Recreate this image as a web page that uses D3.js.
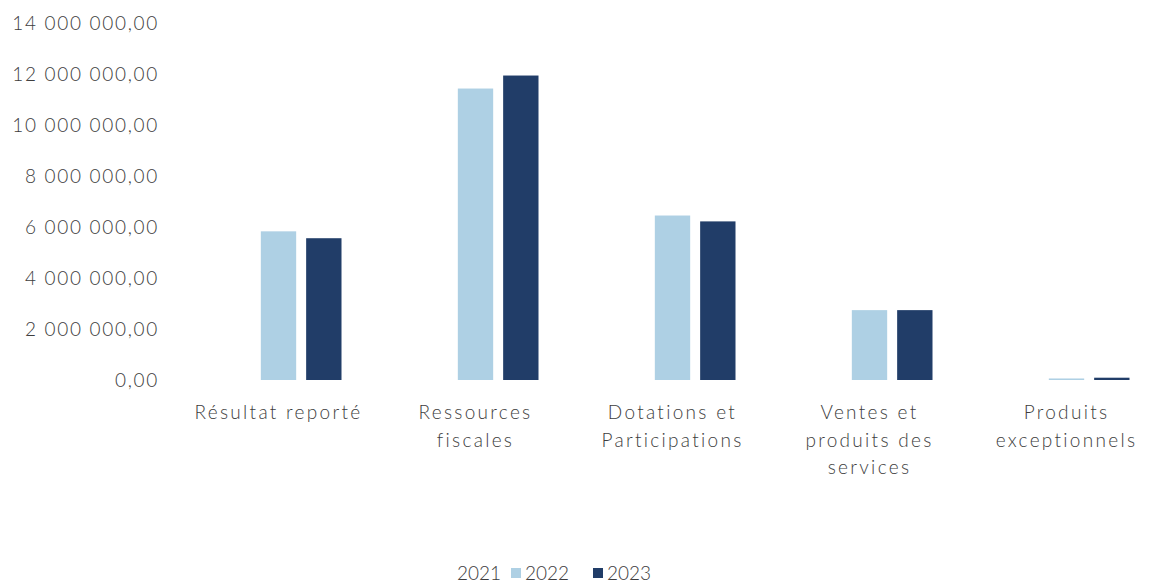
<!DOCTYPE html>
<html>
<head>
<meta charset="utf-8">
<script src="https://cdn.jsdelivr.net/npm/d3@7"></script>
<style>
  body { margin: 0; background: #fff; }
  text { font-family: "Lato", "DejaVu Sans", sans-serif; fill: #3d3d3d; }
</style>
</head>
<body>
<div id="chart"></div>
<script>
// categories (line breaks as in the picture)
const categories = [
  ["Résultat reporté"],
  ["Ressources", "fiscales"],
  ["Dotations et", "Participations"],
  ["Ventes et", "produits des", "services"],
  ["Produits", "exceptionnels"]
];
const years = ["2021", "2022", "2023"];
// 2021 is drawn blank in the reference
const values2021 = [0, 0, 0, 0, 0];
const values2022 = [5830000, 11430000, 6450000, 2740000, 60000];
const values2023 = [5560000, 11940000, 6220000, 2740000, 90000];
const yTicks = [0, 2000000, 4000000, 6000000, 8000000, 10000000, 12000000, 14000000];

const colors = { "2021": "none", "2022": "#aed0e4", "2023": "#213d68" };

const width = 1149, height = 585;
const svg = d3.select("#chart").append("svg")
  .attr("width", width).attr("height", height);

const x = d3.scaleBand()
  .domain(d3.range(categories.length))
  .range([180, 1165])
  .paddingInner(0);

const x1 = d3.scaleBand()
  .domain(years)
  .range([x.bandwidth() / 2 - 63, x.bandwidth() / 2 + 63])
  .paddingInner(0.22);

const y = d3.scaleLinear()
  .domain([0, 14000000])
  .range([380, 23]);

const fr = d3.formatLocale({ decimal: ",", thousands: " ", grouping: [3], currency: ["", ""] });
const fmt = fr.format(",.2f");

// y axis, no line, no ticks
const yAxis = svg.append("g")
  .attr("transform", "translate(159,0)")
  .call(d3.axisLeft(y).tickValues(yTicks).tickFormat(fmt).tickSize(0).tickPadding(0));
yAxis.select(".domain").remove();
yAxis.selectAll("text")
  .style("font-family", "'Lato', 'DejaVu Sans', sans-serif")
  .style("font-size", "19px")
  .style("font-weight", 300)
  .attr("letter-spacing", "1.7px")
  .attr("fill", "#3d3d3d");

const series = { "2021": values2021, "2022": values2022, "2023": values2023 };

const groups = svg.selectAll("g.cat")
  .data(categories)
  .enter().append("g")
  .attr("class", "cat")
  .attr("transform", (d, i) => `translate(${x(i)},0)`);

groups.each(function (d, i) {
  const g = d3.select(this);
  years.forEach(yr => {
    const v = series[yr][i];
    g.append("rect")
      .attr("x", x1(yr))
      .attr("width", x1.bandwidth())
      .attr("y", y(v))
      .attr("height", Math.max(0, y(0) - y(v)))
      .attr("fill", colors[yr]);
  });
  const t = g.append("text")
    .attr("text-anchor", "middle")
    .attr("x", x.bandwidth() / 2)
    .attr("y", 419)
    .style("font-size", "19px")
    .style("font-weight", 300)
    .attr("letter-spacing", "2.3px");
  d.forEach((line, k) => {
    t.append("tspan")
      .attr("x", x.bandwidth() / 2)
      .attr("dy", k === 0 ? 0 : 27.5)
      .text(line);
  });
});

// legend
const legend = svg.append("g").attr("transform", "translate(0,580)");
const legendItems = [
  { year: "2021", sx: null, tx: 457 },
  { year: "2022", sx: 511, tx: 525 },
  { year: "2023", sx: 593, tx: 607 }
];
legendItems.forEach(it => {
  if (it.sx !== null) {
    legend.append("rect")
      .attr("x", it.sx).attr("y", -12)
      .attr("width", 10).attr("height", 10)
      .attr("fill", colors[it.year]);
  }
  legend.append("text")
    .attr("x", it.tx).attr("y", 0)
    .style("font-size", "19px")
    .style("font-weight", 300)
    .text(it.year);
});
</script>
</body>
</html>
